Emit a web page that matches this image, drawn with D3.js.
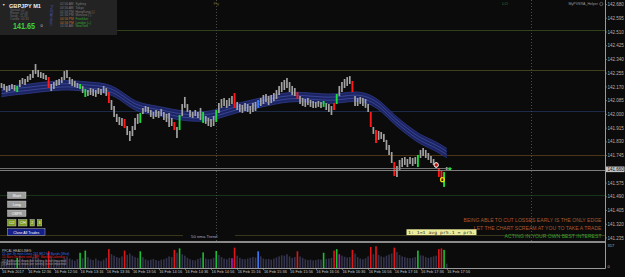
<!DOCTYPE html>
<html>
<head>
<meta charset="utf-8">
<script src="https://cdn.jsdelivr.net/npm/d3@7"></script>
<style>
  body { margin:0; background:#0b0b0b; }
  svg { display:block; font-family:"Liberation Sans", Arial, sans-serif; }
</style>
</head>
<body>
<svg id="chart" width="625" height="277"></svg>
<script>
// GBPJPY M1, bars grouped by 2 minutes, 16 Feb 2017 12:16 -> 17:56
var highs = [142.194,142.188,142.176,142.182,142.188,142.182,142.176,142.213,142.225,142.219,
  142.237,142.250,142.275,142.312,142.275,142.262,142.256,142.244,142.231,142.188,
  142.200,142.213,142.219,142.231,142.268,142.275,142.231,142.219,142.207,142.194,
  142.188,142.176,142.157,142.151,142.163,142.157,142.151,142.163,142.157,142.176,
  142.163,142.138,142.089,142.052,142.003,141.984,141.978,141.972,141.928,141.897,
  141.928,141.978,142.003,142.009,142.040,142.052,142.046,142.027,142.015,142.027,
  142.021,142.033,142.015,142.003,142.009,141.978,141.953,141.922,141.996,142.064,
  142.108,142.064,142.027,142.015,142.027,142.015,142.040,142.015,141.990,141.978,
  141.972,141.990,142.027,142.070,142.095,142.101,142.089,142.101,142.114,142.132,
  142.077,142.064,142.058,142.070,142.064,142.052,142.070,142.077,142.089,142.101,
  142.120,142.126,142.114,142.120,142.132,142.151,142.176,142.200,142.213,142.225,
  142.200,142.176,142.163,142.138,142.114,142.101,142.095,142.101,142.089,142.083,
  142.077,142.083,142.077,142.083,142.070,142.064,142.052,142.070,142.126,142.176,
  142.200,142.219,142.231,142.237,142.207,142.114,142.101,142.108,142.101,142.095,
  142.064,142.015,141.922,141.903,141.897,141.891,141.879,141.842,141.811,141.767,
  141.705,141.681,141.718,141.730,141.736,141.724,141.736,141.730,141.736,141.749,
  141.780,141.792,141.780,141.761,141.743,141.724,141.705,141.668,141.650,141.643,
  141.674];
var lows = [142.163,142.151,142.138,142.145,142.157,142.145,142.138,142.169,142.188,142.182,
  142.200,142.213,142.225,142.250,142.231,142.225,142.219,142.213,142.163,142.145,
  142.157,142.176,142.182,142.194,142.213,142.225,142.188,142.176,142.169,142.163,
  142.157,142.132,142.108,142.114,142.120,142.114,142.108,142.126,142.120,142.132,
  142.114,142.070,142.027,141.984,141.953,141.934,141.928,141.916,141.872,141.835,
  141.866,141.903,141.941,141.947,142.003,142.015,142.009,141.984,141.972,141.984,
  141.978,141.990,141.965,141.953,141.922,141.928,141.903,141.854,141.903,141.990,
  142.040,142.015,141.984,141.978,141.990,141.978,141.965,141.947,141.941,141.928,
  141.922,141.928,141.953,142.009,142.040,142.052,142.040,142.052,142.064,142.040,
  142.027,142.015,142.009,142.021,142.015,142.003,142.015,142.021,142.040,142.052,
  142.064,142.077,142.058,142.070,142.083,142.095,142.120,142.138,142.151,142.163,
  142.138,142.120,142.114,142.095,142.064,142.052,142.046,142.058,142.046,142.040,
  142.040,142.046,142.040,142.046,142.027,142.015,141.996,142.027,142.064,142.114,
  142.138,142.163,142.176,142.188,142.138,142.052,142.052,142.064,142.052,142.040,
  142.015,141.922,141.879,141.823,141.842,141.848,141.829,141.780,141.749,141.699,
  141.619,141.613,141.656,141.674,141.687,141.674,141.693,141.681,141.693,141.674,
  141.730,141.743,141.730,141.718,141.699,141.687,141.668,141.613,141.594,141.551,
  141.656];
var volumes = [90,110,85,95,120,100,140,170,130,105,
  115,125,150,190,140,110,95,120,230,160,
  120,105,95,110,145,160,130,115,100,125,
  210,135,240,150,120,110,130,105,95,115,
  140,260,190,170,150,140,160,240,180,200,
  170,150,140,230,150,120,105,115,125,110,
  100,115,120,135,160,150,250,210,270,190,
  170,140,120,110,105,125,140,215,130,120,
  125,140,235,180,150,130,120,140,135,280,
  170,140,125,120,130,140,150,145,230,160,
  130,120,125,115,130,145,160,175,170,190,
  160,140,150,230,160,140,120,110,115,105,
  110,120,115,210,125,130,140,240,260,190,
  170,155,145,150,250,200,150,130,120,135,
  160,290,190,300,180,160,150,170,185,200,
  280,220,180,160,150,140,135,140,150,240,
  175,170,150,140,150,160,170,260,270,250,
  60];
// PVSRA coloured bars (index of bar)
var redBars = [18,41,47,66,89,113,127,134,141,143,150,167,168];
var greenBars = [6,30,32,53,68,77,82,123,128,159,169];
var blueBars = [98];
var magentaBars = [88,129];
// EMA channel centre, one value every 5 bars
var bandCentre = [142.138,142.151,142.157,142.169,142.176,142.182,142.176,142.169,142.163,142.126,
  142.058,142.033,142.021,142.003,141.990,141.984,141.990,142.015,142.040,142.058,
  142.077,142.095,142.108,142.108,142.101,142.095,142.101,142.114,142.101,142.052,
  141.965,141.903,141.842,141.811,141.761];
var bandHalf = 0.029;

var priceTicks = ["142.680","142.595","142.510","142.425","142.340","142.255","142.170","142.085","142.000",
  "141.915","141.830","141.745","141.660","141.575","141.490","141.405","141.320","141.235"];
var timeLabels = ["16 Feb 2017","16 Feb 12:36","16 Feb 12:56","16 Feb 13:16","16 Feb 13:36","16 Feb 13:56",
  "16 Feb 14:16","16 Feb 14:36","16 Feb 14:56","16 Feb 15:16","16 Feb 15:36","16 Feb 15:56","16 Feb 16:16",
  "16 Feb 16:36","16 Feb 16:56","16 Feb 17:16","16 Feb 17:36","16 Feb 17:56"];
var levelLines = [
  {p:142.523, c:"#2e421c"},
  {p:142.277, c:"#42401c"},
  {p:142.023, c:"#1b2a48"},
  {p:141.751, c:"#4e3416"},
  {p:141.499, c:"#183418"}
];
var sessions = [
  ["02:56 AM","Sydney","#7a7a7a","#7a7a7a"],
  ["03:56 AM","Tokyo","#7a7a7a","#7a7a7a"],
  ["01:56 PM","HongKong (-)","#7a7a7a","#7a7a7a"],
  ["01:56 PM","Moscow (-)","#7a7a7a","#7a7a7a"],
  ["04:56 PM","Frankfurt","#c87430","#36a836"],
  ["04:56 PM","London (+)","#c87430","#36a836"],
  ["10:56 AM","NewYork","#7a7a7a","#36a836"]
];
var quotes = [
  ["BEING ABLE TO CUT LOSSES EARLY IS THE ONLY EDGE","#b0562c"],
  ["LET THE CHART SCREAM AT YOU TO TAKE A TRADE","#b0562c"],
  ["ACTING IN YOUR OWN BEST INTEREST","#38a02c"]
];

var svg = d3.select("#chart"),
  width = +svg.attr("width"),
  height = +svg.attr("height");
var plotRight = 605;

var t0 = new Date(2017,1,16,12,16);
var times = highs.map(function(d,i){ return d3.timeMinute.offset(t0, 2*i); });

var x = d3.scaleTime()
  .domain([t0, times[times.length-1]])
  .range([1.5, 446.7]);
var y = d3.scaleLinear()
  .domain([141.235, 142.680])
  .range([238, 4.5]);
var yVol = d3.scaleLinear()
  .domain([0, 317])
  .range([268, 245]);

svg.append("rect").attr("width", width).attr("height", height).attr("fill", "#0b0b0b");

// level lines
svg.append("g").selectAll("line")
  .data(levelLines)
  .enter().append("line")
    .attr("x1", 0).attr("x2", plotRight)
    .attr("y1", function(d){ return Math.round(y(d.p))+0.5; })
    .attr("y2", function(d){ return Math.round(y(d.p))+0.5; })
    .attr("stroke", function(d){ return d.c; });

// 50 ema trend line
svg.append("line")
  .attr("x1", 0).attr("x2", plotRight).attr("y1", 235.5).attr("y2", 235.5)
  .attr("stroke", "#3a361a");
svg.append("rect").attr("x", 183).attr("y", 232).attr("width", 52).attr("height", 7).attr("fill", "#0b0b0b");
svg.append("text").attr("x", 191).attr("y", 238).text("50 ema Trend")
  .attr("fill", "#a8a8c4").style("font-size", "4.3px");

// session markers
var sessionTimes = [new Date(2017,1,16,15,0), new Date(2017,1,16,19,0)];
svg.append("g").selectAll("line")
  .data(sessionTimes)
  .enter().append("line")
    .attr("x1", function(d){ return Math.round(x(d))+0.5; })
    .attr("x2", function(d){ return Math.round(x(d))+0.5; })
    .attr("y1", 0).attr("y2", 241)
    .attr("stroke", "#4c4c4c")
    .style("stroke-dasharray", "1,2");
svg.append("text").attr("x", x(sessionTimes[0])).attr("y", 5).text("Fly")
  .attr("fill", "#6a6a30").style("font-size", "4.3px").attr("text-anchor", "middle");
svg.append("text").attr("x", 505).attr("y", 5).text("LO")
  .attr("fill", "#3a7a3a").style("font-size", "4.3px").attr("text-anchor", "middle");

// EMA channel
var bandX = function(d,i){ return x(times[i*5]); };
var area = d3.area().x(bandX)
  .y0(function(d){ return y(d - bandHalf); })
  .y1(function(d){ return y(d + bandHalf); })
  .curve(d3.curveBasis);
svg.append("path").datum(bandCentre).attr("d", area).attr("fill", "#1c2464");
[-1, -0.33, 0.33, 1].forEach(function(k){
  var line = d3.line().x(bandX)
    .y(function(d){ return y(d + k*bandHalf); })
    .curve(d3.curveBasis);
  svg.append("path").datum(bandCentre).attr("d", line)
    .attr("fill", "none")
    .attr("stroke", Math.abs(k) == 1 ? "#2e3a86" : "#4c5cae")
    .attr("stroke-width", Math.abs(k) == 1 ? 0.8 : 0.6);
});

function barColor(i){
  if (redBars.indexOf(i) >= 0) return "#ff1a1a";
  if (greenBars.indexOf(i) >= 0) return "#1adf3a";
  if (blueBars.indexOf(i) >= 0) return "#3a7aff";
  return null;
}
function volColor(i){
  if (magentaBars.indexOf(i) >= 0) return "#b01cb8";
  var c = barColor(i);
  if (c == "#ff1a1a") return "#e01616";
  if (c == "#1adf3a") return "#18c034";
  return c || "#34344e";
}

// price bars
svg.append("g").selectAll("line")
  .data(highs)
  .enter().append("line")
    .attr("x1", function(d,i){ return x(times[i]); })
    .attr("x2", function(d,i){ return x(times[i]); })
    .attr("y1", function(d){ return y(d); })
    .attr("y2", function(d,i){ return y(lows[i]); })
    .attr("stroke", function(d,i){ return barColor(i) || "#a2a2a2"; })
    .attr("stroke-width", function(d,i){ return barColor(i) ? 1.9 : 1.7; });

// bid / ask lines
svg.append("line").attr("x1", 0).attr("x2", 452).attr("y1", Math.round(y(141.668))+0.5).attr("y2", Math.round(y(141.668))+0.5)
  .attr("stroke", "#8c8c8c").attr("stroke-width", 0.8);
svg.append("line").attr("x1", 0).attr("x2", plotRight).attr("y1", Math.round(y(141.658))+0.5).attr("y2", Math.round(y(141.658))+0.5)
  .attr("stroke", "#9a9a9a").attr("stroke-width", 0.8);

// trade markers
svg.append("circle").attr("cx", x(times[166])).attr("cy", y(141.687)).attr("r", 2.2)
  .attr("fill", "#c01010").attr("stroke", "#f0f0f0").attr("stroke-width", 1);
svg.append("circle").attr("cx", x(times[168])+1).attr("cy", y(141.596)).attr("r", 2)
  .attr("fill", "none").attr("stroke", "#f0e000").attr("stroke-width", 1.1);
svg.append("rect").attr("x", 448.5).attr("y", 167.5).attr("width", 2.5).attr("height", 2.5).attr("fill", "#20e040");

// info panel
var panel = svg.append("g");
panel.append("rect").attr("x", 0).attr("y", 0).attr("width", 117).attr("height", 35).attr("fill", "#232323");
panel.append("text").attr("x", 2).attr("y", 6).text("\u25BC").attr("fill", "#ddd").style("font-size", "3.5px");
panel.append("text").attr("x", 9).attr("y", 7.5).text("GBPJPY   M1")
  .attr("fill", "#f0f0f0").style("font-size", "5.6px").style("font-weight", "bold");
var infoLines = ["Spread: 12", "Range: 51.00", "Swap: -11.39", "Candle: 00:33"];
panel.selectAll("text.info").data(infoLines).enter().append("text")
  .attr("class", "info")
  .attr("x", 10).attr("y", function(d,i){ return 11.2 + i*3; })
  .text(function(d){ return d; })
  .attr("fill", "#6e6e6e").style("font-size", "3px");
panel.append("text").attr("x", 13).attr("y", 29.3).text("141.65")
  .attr("textLength", 22).attr("lengthAdjust", "spacingAndGlyphs")
  .attr("fill", "#3ed03e").style("font-size", "9px").style("font-weight", "bold");
panel.append("text").attr("x", 40.5).attr("y", 27).text("0")
  .attr("fill", "#cfcfcf").style("font-size", "4px");
panel.append("text").attr("transform", "translate(49.5,5) rotate(90)").text("PVSRA Helper")
  .attr("fill", "#4a58b8").style("font-size", "3.2px");
var sess = panel.selectAll("g.sess").data(sessions).enter().append("g").attr("class", "sess");
sess.append("text").attr("x", 60).attr("y", function(d,i){ return 5.2 + i*3.67; })
  .text(function(d){ return d[0]; }).attr("fill", function(d){ return d[2]; }).style("font-size", "3.2px");
sess.append("text").attr("x", 75.5).attr("y", function(d,i){ return 5.2 + i*3.67; })
  .text(function(d){ return d[1]; }).attr("fill", function(d){ return d[3]; }).style("font-size", "3.2px");

// indicator name, top right
svg.append("text").attr("x", 598).attr("y", 5.3).attr("text-anchor", "end").text("MyPVSRA_Helper")
  .attr("fill", "#9a9a9a").style("font-size", "3.6px");
svg.append("circle").attr("cx", 601.3).attr("cy", 4).attr("r", 1.6)
  .attr("fill", "none").attr("stroke", "#9a9a9a").attr("stroke-width", 0.5);

// buttons
var buttons = [
  {t:"Short", x:7.5, y:192, w:18.5, h:6.5, f:"#9c9c9c"},
  {t:"Long", x:7.5, y:201, w:18.5, h:6.5, f:"#9c9c9c"},
  {t:"OSPR", x:7.5, y:210, w:18.5, h:6.5, f:"#9c9c9c"},
  {t:"C/2", x:7.5, y:219.5, w:8.5, h:6.5, f:"#7b9a22"},
  {t:"C/H", x:18.5, y:219.5, w:8.5, h:6.5, f:"#7b9a22"},
  {t:"2", x:30, y:219.5, w:4.5, h:6.5, f:"#7b9a22"},
  {t:"3", x:37.3, y:219.5, w:4.5, h:6.5, f:"#7b9a22"},
  {t:"Close All Trades", x:7.5, y:228.7, w:37.5, h:6.5, f:"#141e86"}
];
var btn = svg.selectAll("g.btn").data(buttons).enter().append("g").attr("class", "btn");
btn.append("rect").attr("x", function(d){ return d.x; }).attr("y", function(d){ return d.y; })
  .attr("width", function(d){ return d.w; }).attr("height", function(d){ return d.h; })
  .attr("fill", function(d){ return d.f; }).attr("stroke", "#dcdcdc").attr("stroke-width", 0.4);
btn.append("text").attr("x", function(d){ return d.x + d.w/2; }).attr("y", function(d){ return d.y + d.h - 1.7; })
  .attr("text-anchor", "middle").text(function(d){ return d.t; })
  .attr("fill", "#fff").style("font-size", "3.6px");

// quotes
svg.selectAll("text.quote").data(quotes).enter().append("text")
  .attr("class", "quote")
  .attr("x", 601.5).attr("y", function(d,i){ return 222.2 + i*8.1; })
  .attr("text-anchor", "end")
  .text(function(d){ return d[0]; })
  .attr("fill", function(d){ return d[1]; })
  .style("font-size", "5.1px");

// yellow label
svg.append("rect").attr("x", 406.5).attr("y", 229.3).attr("width", 70).attr("height", 5.8).attr("fill", "#ecec9a");
svg.append("text").attr("x", 408).attr("y", 233.7).text("1: 1=1 avg pr5.1 = pr5.")
  .attr("textLength", 67).attr("lengthAdjust", "spacingAndGlyphs")
  .attr("fill", "#303030").style("font-size", "4.2px").style("font-family", "DejaVu Sans Mono");

// separator between main chart and volume window
svg.append("rect").attr("x", 0).attr("y", 241).attr("width", plotRight).attr("height", 2).attr("fill", "#8a8a8a");

// volume window
svg.append("g").selectAll("rect")
  .data(volumes)
  .enter().append("rect")
    .attr("x", function(d,i){ return x(times[i]) - 0.8; })
    .attr("y", function(d){ return yVol(d); })
    .attr("width", 1.6)
    .attr("height", function(d){ return yVol(0) - yVol(d); })
    .attr("fill", function(d,i){ return volColor(i); });

var headlines = [
  ["PFCAL HEADLINES:", "#b8b8b8"],
  ["25 Jan 3h mins Lines 291 BK2 for Bands (Wed)", "#3a6ae0"],
  ["21 Bars 3n mins until CBP: Bankof Calendar", "#e02020"],
  ["[2] Additional news per setting is not imported", "#9a9a9a"],
  ["[3] Additional news per setting is not imported", "#9a9a9a"]
];
svg.selectAll("text.news").data(headlines).enter().append("text")
  .attr("class", "news")
  .attr("x", 2).attr("y", function(d,i){ return 251.5 + i*3.4; })
  .text(function(d){ return d[0]; })
  .attr("fill", function(d){ return d[1]; })
  .style("font-size", "3.2px");

// frame
svg.append("line").attr("x1", plotRight+0.5).attr("x2", plotRight+0.5).attr("y1", 0).attr("y2", 268.5).attr("stroke", "#9a9a9a");
svg.append("line").attr("x1", 0).attr("x2", plotRight+0.5).attr("y1", 268.5).attr("y2", 268.5).attr("stroke", "#9a9a9a");

// price axis
var yAxis = svg.append("g");
yAxis.selectAll("line").data(priceTicks).enter().append("line")
  .attr("x1", plotRight).attr("x2", plotRight+2)
  .attr("y1", function(d){ return y(+d); }).attr("y2", function(d){ return y(+d); })
  .attr("stroke", "#9a9a9a").attr("stroke-width", 0.6);
yAxis.selectAll("text").data(priceTicks).enter().append("text")
  .attr("x", 607.5).attr("y", function(d){ return y(+d) + 1.6; })
  .text(function(d){ return d; })
  .attr("fill", "#b4b4b4").style("font-size", "4.5px");

// current price tag
var last = 141.660;
svg.append("rect").attr("x", 606).attr("y", y(last) - 2.8).attr("width", 18.5).attr("height", 5.6).attr("fill", "#c4c4c4");
svg.append("text").attr("x", 607.5).attr("y", y(last) + 1.6).text(last.toFixed(3))
  .attr("fill", "#101010").style("font-size", "4.5px");

// volume axis
svg.append("text").attr("x", 607.5).attr("y", yVol(317) + 1.6).text("317").attr("fill", "#b4b4b4").style("font-size", "4px");
svg.append("text").attr("x", 607.5).attr("y", yVol(0)).text("0").attr("fill", "#b4b4b4").style("font-size", "4px");

// time axis
var labelTimes = timeLabels.map(function(d,i){ return d3.timeMinute.offset(t0, 20*i); });
var xAxis = svg.append("g");
xAxis.selectAll("line").data(labelTimes).enter().append("line")
  .attr("x1", function(d){ return Math.round(x(d))+0.5; })
  .attr("x2", function(d){ return Math.round(x(d))+0.5; })
  .attr("y1", 268.5).attr("y2", 270)
  .attr("stroke", "#9a9a9a").attr("stroke-width", 0.6);
xAxis.selectAll("text").data(timeLabels).enter().append("text")
  .attr("x", function(d,i){ return x(labelTimes[i]) + 0.5; })
  .attr("y", 273)
  .text(function(d){ return d; })
  .attr("fill", "#c4c4c4").style("font-size", "3.9px");
</script>
</body>
</html>
